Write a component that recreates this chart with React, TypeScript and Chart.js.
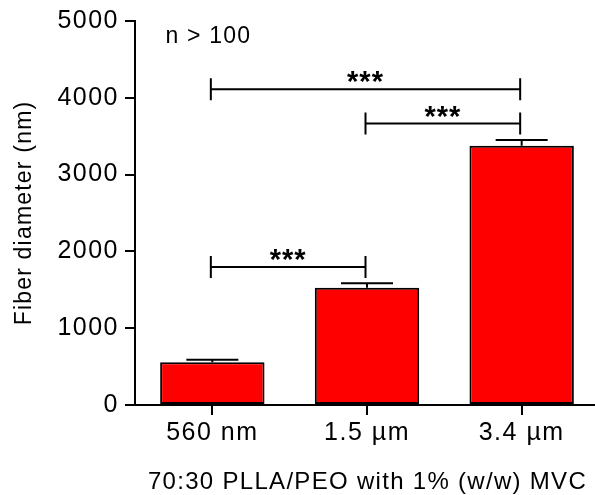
import React, { useEffect, useRef } from "react";
import { Chart, registerables } from "chart.js";

Chart.register(...registerables);

const categories = ["560 nm", "1.5 µm", "3.4 µm"];
const means = [558, 1528, 3375];
const sems = [32, 58, 76];
const yTicks = [0, 1000, 2000, 3000, 4000, 5000];
const yTickLabels = ["0", "1000", "2000", "3000", "4000", "5000"];

const compFrom = [0, 1, 0];
const compTo = [2, 2, 1];
const compLevel = [4110, 3665, 1798];
const compLabel = ["***", "***", "***"];

const sampleNote = "n > 100";
const xTitle = "70:30 PLLA/PEO with 1% (w/w) MVC";
const yTitle = "Fiber diameter (nm)";

const FONT = "'Liberation Sans', Arial, Helvetica, sans-serif";

const overlayPlugin = {
  id: "overlay",
  beforeLayout(chart: any) {
    chart.ctx.letterSpacing = "1.5px";
  },
  beforeDraw(chart: any) {
    chart.ctx.letterSpacing = "1.5px";
  },
  afterDatasetsDraw(chart: any) {
    const ctx = chart.ctx;
    const x = chart.scales.x;
    const y = chart.scales.y;
    ctx.save();
    ctx.strokeStyle = "#000";
    ctx.lineWidth = 2;
    ctx.lineCap = "butt";
    // error bars
    for (let i = 0; i < means.length; i++) {
      const cx = x.getPixelForValue(i);
      const y0 = y.getPixelForValue(means[i]);
      const y1 = y.getPixelForValue(means[i] + sems[i]);
      ctx.beginPath();
      ctx.moveTo(cx, y0);
      ctx.lineTo(cx, y1);
      ctx.moveTo(cx - 26, y1);
      ctx.lineTo(cx + 26, y1);
      ctx.stroke();
    }
    // significance brackets
    for (let i = 0; i < compFrom.length; i++) {
      const xa = x.getPixelForValue(compFrom[i]) - 1.5;
      const xb = x.getPixelForValue(compTo[i]) - 1.5;
      const ly = y.getPixelForValue(compLevel[i]);
      ctx.beginPath();
      ctx.moveTo(xa, ly);
      ctx.lineTo(xb, ly);
      ctx.moveTo(xa, ly - 11);
      ctx.lineTo(xa, ly + 11);
      ctx.moveTo(xb, ly - 11);
      ctx.lineTo(xb, ly + 11);
      ctx.stroke();
      ctx.fillStyle = "#000";
      ctx.font = `bold 29px ${FONT}`;
      ctx.letterSpacing = "1px";
      ctx.textAlign = "center";
      ctx.textBaseline = "alphabetic";
      ctx.fillText(compLabel[i], (xa + xb) / 2, ly + 2);
    }
    ctx.restore();
  },
  afterDraw(chart: any) {
    const ctx = chart.ctx;
    const area = chart.chartArea;
    ctx.save();
    ctx.fillStyle = "#000";
    // sample note
    ctx.font = `23px ${FONT}`;
    ctx.letterSpacing = "1.2px";
    ctx.textAlign = "left";
    ctx.textBaseline = "alphabetic";
    ctx.fillText(sampleNote, 165.5, 42.5);
    // x title
    ctx.font = `24px ${FONT}`;
    ctx.letterSpacing = "1.3px";
    ctx.textAlign = "center";
    ctx.fillText(xTitle, 367.5, 489);
    // y title
    ctx.translate(25, (area.top + area.bottom) / 2);
    ctx.rotate(-Math.PI / 2);
    ctx.font = `23px ${FONT}`;
    ctx.letterSpacing = "1.2px";
    ctx.textAlign = "center";
    ctx.textBaseline = "middle";
    ctx.fillText(yTitle, 0, 0);
    ctx.restore();
  },
};

export default function App() {
  const ref = useRef<HTMLCanvasElement | null>(null);

  useEffect(() => {
    const canvas = ref.current;
    if (!canvas) return;
    const chart = new Chart(canvas, {
      type: "bar",
      data: {
        labels: categories,
        datasets: [
          {
            data: means,
            backgroundColor: "#ff0000",
            borderColor: "#000000",
            borderWidth: 2,
            borderSkipped: false,
            barPercentage: 0.675,
            categoryPercentage: 1,
          },
        ],
      },
      options: {
        animation: false,
        responsive: false,
        devicePixelRatio: 1,
        layout: { padding: { top: 18.5, right: 0, left: 0, bottom: 0 } },
        plugins: {
          legend: { display: false },
          tooltip: { enabled: false },
          title: { display: false },
        },
        scales: {
          x: {
            offset: true,
            grid: {
              display: true,
              offset: false,
              drawOnChartArea: false,
              drawTicks: true,
              tickLength: 10,
              color: "#000",
              lineWidth: 2,
            },
            border: { display: true, color: "#000", width: 2 },
            ticks: {
              color: "#000",
              font: { family: FONT, size: 25 },
              padding: 3,
              maxRotation: 0,
              minRotation: 0,
              autoSkip: false,
            },
            afterFit: (s: any) => {
              s.height = 90;
            },
          },
          y: {
            min: 0,
            max: 5000,
            afterBuildTicks: (s: any) => {
              s.ticks = yTicks.map((v) => ({ value: v }));
            },
            grid: {
              drawOnChartArea: false,
              drawTicks: true,
              tickLength: 10,
              color: "#000",
              lineWidth: 2,
            },
            border: { display: true, color: "#000", width: 2 },
            ticks: {
              color: "#000",
              font: { family: FONT, size: 25 },
              padding: 6,
              callback: (v: any) => {
                const idx = yTicks.indexOf(Number(v));
                return idx >= 0 ? yTickLabels[idx] : String(v);
              },
            },
            afterFit: (s: any) => {
              s.width = 135;
            },
          },
        },
      },
      plugins: [overlayPlugin],
    } as any);
    return () => chart.destroy();
  }, []);

  return (
    <div
      style={{
        position: "fixed",
        left: 0,
        top: 0,
        width: 595,
        height: 495,
        overflow: "hidden",
        background: "#fff",
      }}
    >
      <canvas ref={ref} width={599} height={495} style={{ width: 599, height: 495, display: "block" }} />
    </div>
  );
}
